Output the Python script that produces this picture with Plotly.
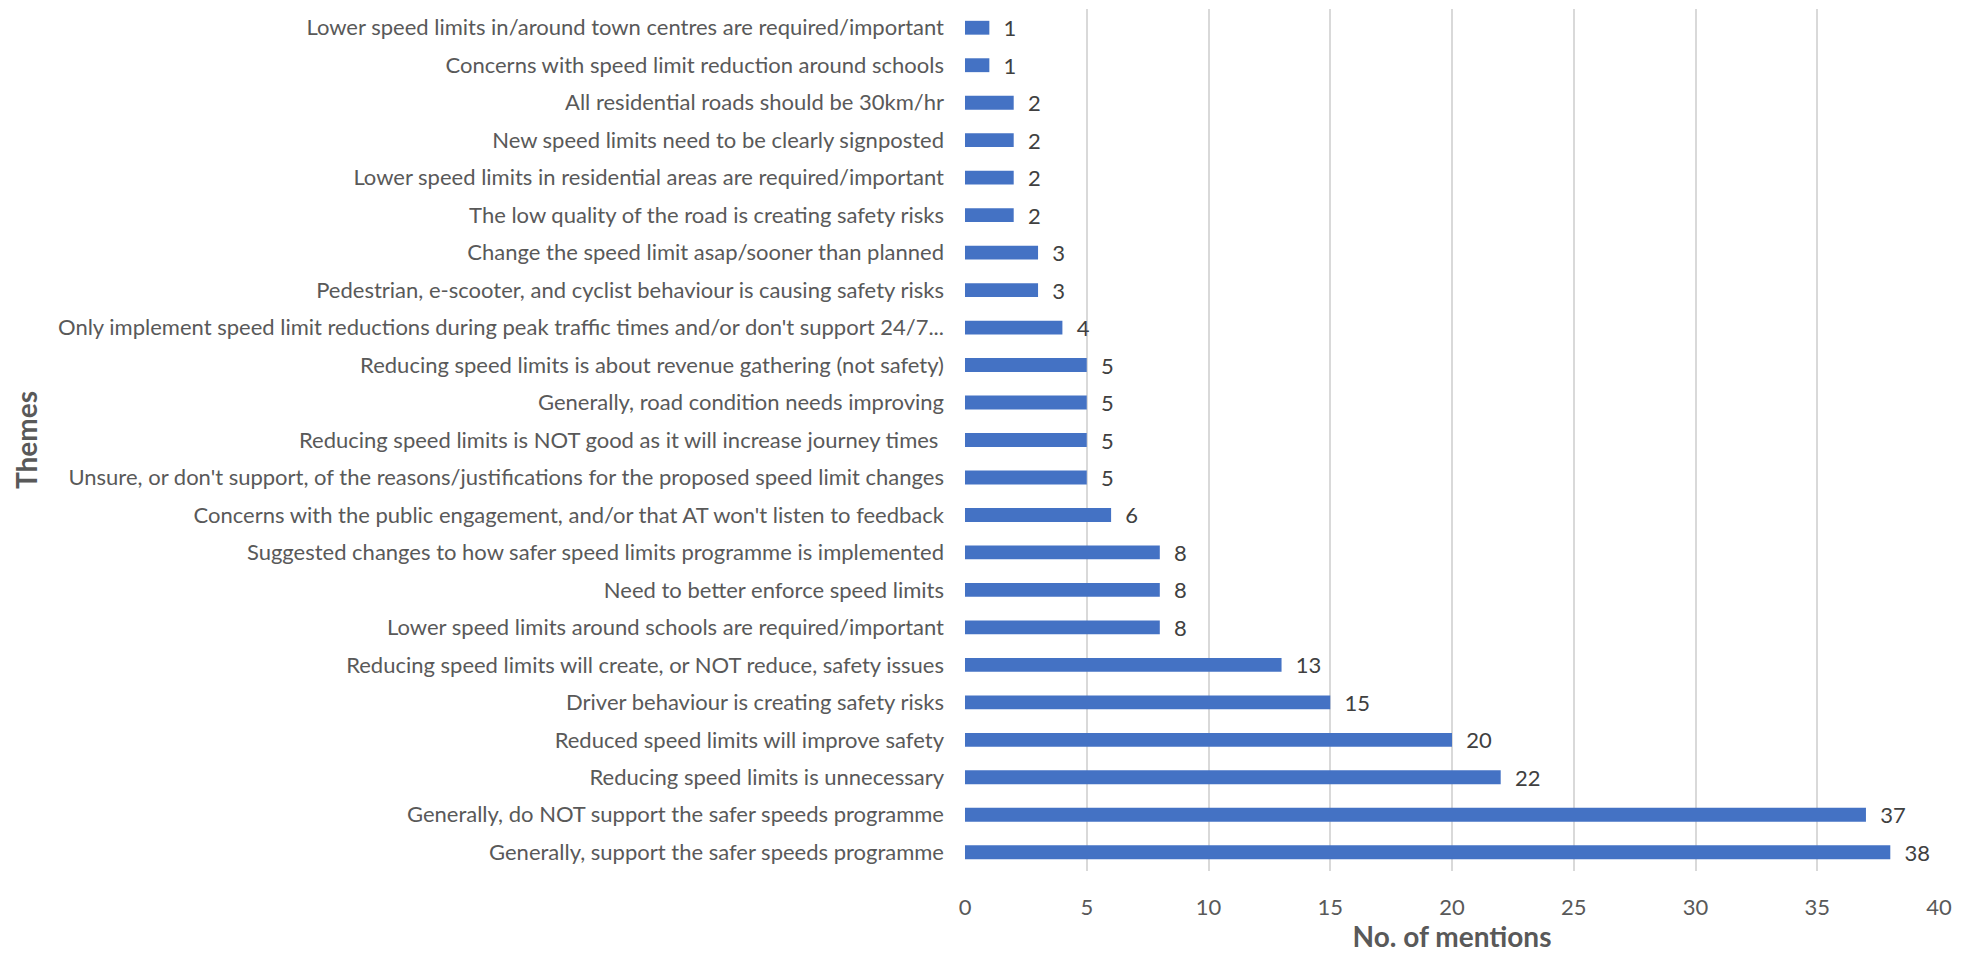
import plotly.graph_objects as go

themes = [
    "Lower speed limits in/around town centres are required/important",
    "Concerns with speed limit reduction around schools",
    "All residential roads should be 30km/hr",
    "New speed limits need to be clearly signposted",
    "Lower speed limits in residential areas are required/important",
    "The low quality of the road is creating safety risks",
    "Change the speed limit asap/sooner than planned",
    "Pedestrian, e-scooter, and cyclist behaviour is causing safety risks",
    "Only implement speed limit reductions during peak traffic times and/or don't support 24/7...",
    "Reducing speed limits is about revenue gathering (not safety)",
    "Generally, road condition needs improving",
    "Reducing speed limits is NOT good as it will increase journey times ",
    "Unsure, or don't support, of the reasons/justifications for the proposed speed limit changes",
    "Concerns with the public engagement, and/or that AT won't listen to feedback",
    "Suggested changes to how safer speed limits programme is implemented",
    "Need to better enforce speed limits",
    "Lower speed limits around schools are required/important",
    "Reducing speed limits will create, or NOT reduce, safety issues",
    "Driver behaviour is creating safety risks",
    "Reduced speed limits will improve safety",
    "Reducing speed limits is unnecessary",
    "Generally, do NOT support the safer speeds programme",
    "Generally, support the safer speeds programme",
]
mentions = [1, 1, 2, 2, 2, 2, 3, 3, 4, 5, 5, 5, 5, 6, 8, 8, 8, 13, 15, 20, 22, 37, 38]

x_ticks = [0, 5, 10, 15, 20, 25, 30, 35, 40]

FONT = "Lato"
TXT = "#595959"
FS = 22
TS = 28

fig = go.Figure(
    go.Bar(
        x=mentions,
        y=themes,
        orientation="h",
        marker=dict(color="#4472C4", line=dict(width=0)),
        width=0.37,
        texttemplate="  %{x}",
        textposition="outside",
        constraintext="none",
        textfont=dict(family=FONT, size=FS, color="#404040"),
        cliponaxis=False,
        hoverinfo="x+y",
    )
)

# the page body adds an 8px offset, so the figure is 8px smaller than the window
fig.update_layout(
    width=1958,
    height=945,
    paper_bgcolor="white",
    plot_bgcolor="white",
    margin=dict(l=957, r=27, t=1, b=82, autoexpand=False),
    showlegend=False,
    font=dict(family=FONT, size=FS, color=TXT),
)

fig.update_xaxes(
    range=[0, 40],
    tickvals=x_ticks,
    ticktext=[str(v) for v in x_ticks],
    showgrid=True,
    gridcolor="#D9D9D9",
    gridwidth=1.5,
    zeroline=False,
    showline=False,
    ticks="",
    automargin=False,
    ticklabelstandoff=21,
    tickfont=dict(family=FONT, size=FS, color=TXT),
    title=dict(text="<b>No. of mentions</b>", font=dict(family=FONT, size=TS, color=TXT), standoff=6),
)

fig.update_yaxes(
    categoryorder="array",
    categoryarray=themes,
    autorange="reversed",
    showgrid=False,
    zeroline=False,
    showline=False,
    ticks="",
    automargin=False,
    ticklabelstandoff=20,
    tickfont=dict(family=FONT, size=FS, color=TXT),
    title=dict(text="<b>Themes</b>", font=dict(family=FONT, size=TS, color=TXT), standoff=12),
)

fig.write_html("out.html")
